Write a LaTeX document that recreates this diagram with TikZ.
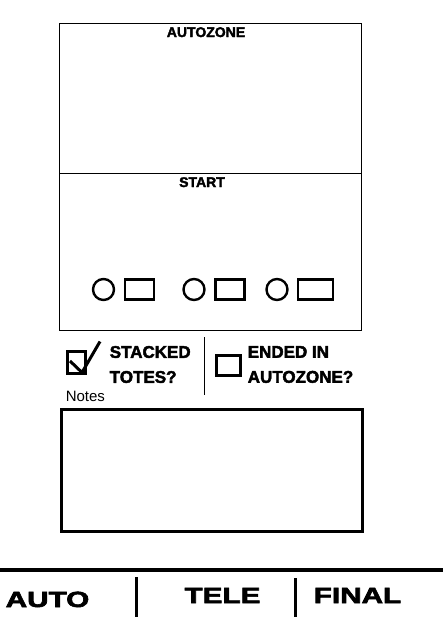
\documentclass[tikz,border=0pt]{standalone}
\usepackage{fontspec}
\setmainfont{Liberation Sans}[BoldFeatures={FakeBold=2.5}]
\usepackage{graphicx}
\usetikzlibrary{positioning}
\newcommand{\wide}[1]{\scalebox{1.35}[1]{#1}}

\begin{document}
\begin{tikzpicture}[x=0.75pt, y=-0.75pt,
			zonelabel/.style={font=\bfseries\fontsize{10.5}{12}\selectfont, inner sep=0pt, anchor=base},
			question/.style={font=\bfseries\fontsize{12.75}{18.75}\selectfont, inner sep=0pt, anchor=west, align=left},
			tab/.style={font=\bfseries\fontsize{16.5}{18}\selectfont, inner sep=0pt, anchor=base},
			robot/.style={draw, circle, line width=1.8pt, minimum size=15.75pt, inner sep=0pt},
			tote/.style={draw, rectangle, line width=1.8pt, minimum width=21.75pt, minimum height=15pt, inner sep=0pt},
			checkbox/.style={draw, rectangle, line width=2.25pt, inner sep=0pt}
			]
			\useasboundingbox (0,0) rectangle (443,619);
			
			% Field: autozone and start
			\draw[line width=0.75pt] (59,23) rectangle (361,330);
			\draw[line width=0.75pt] (59,173) -- (361,173);
			\node[zonelabel] (autozone) at (206,37) {AUTOZONE};
			\node[zonelabel] (start) at (202,187) {START};
			
			% Start positions
			\node[robot] (robot1) at (103.5,289.5) {};
			\node[tote] (tote1) [right=6.5pt of robot1] {};
			\node[robot] (robot2) at (194,289.5) {};
			\node[tote] (tote2) [right=6.5pt of robot2] {};
			\node[robot] (robot3) at (277,289.5) {};
			\node[tote, minimum width=26.25pt] (tote3) [right=6pt of robot3] {};
			
			% Checkboxes
			\node[checkbox, minimum width=13.5pt, minimum height=16.5pt] (stackbox) at (76.5,362.5) {};
			\draw[line width=2.25pt] (70,361) -- (82,372.5) -- (100,341.5);
			\node[question] (stacked) at (109.5,364.5) {STACKED\\TOTES?};
			\draw[line width=0.75pt] (204,337) -- (204,395);
			\node[checkbox, minimum width=18pt, minimum height=15pt] (endbox) at (228.5,365) {};
			\node[question] (ended) at (247.5,364.5) {ENDED IN\\AUTOZONE?};
			
			% Notes
			\node[font=\fontsize{11.25}{13}\selectfont, inner sep=0pt, anchor=base west] (notes) at (65.5,401.5) {Notes};
			\draw[line width=2.5pt] (61.5,409.5) rectangle (362.5,531.5);
			
			% Bottom tabs
			\draw[line width=3pt] (0,570) -- (443,570);
			\draw[line width=2.25pt] (136.5,577) -- (136.5,617);
			\draw[line width=2.25pt] (295,578) -- (295,617);
			\node[tab] (auto) at (47.5,607) {\wide{AUTO}};
			\node[tab] (tele) at (222.5,603) {\wide{TELE}};
			\node[tab] (final) at (357.5,603) {\wide{FINAL}};
			
		\end{tikzpicture}
\end{document}
